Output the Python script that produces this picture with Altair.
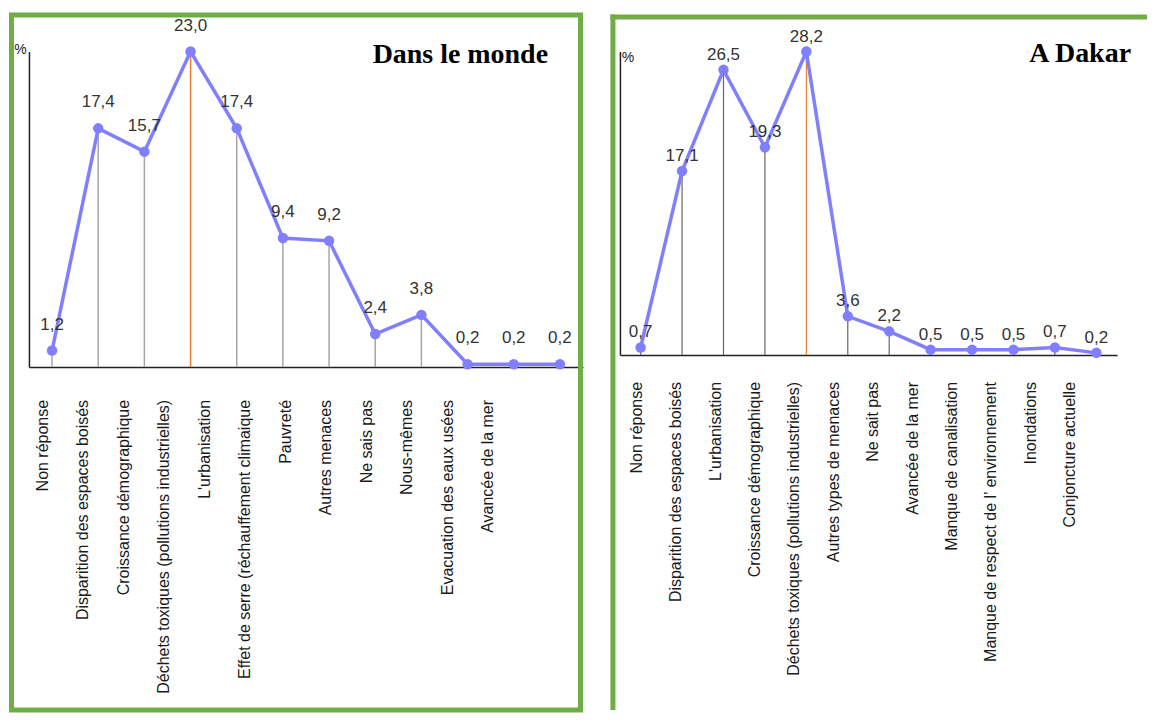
import altair as alt
import pandas as pd

# ---- data ----
world_cats = [
    "Non réponse",
    "Disparition des espaces boisés",
    "Croissance démographique",
    "Déchets toxiques (pollutions industrielles)",
    "L'urbanisation",
    "Effet de serre (réchauffement climaique",
    "Pauvreté",
    "Autres menaces",
    "Ne sais pas",
    "Nous-mêmes",
    "Evacuation des eaux usées",
    "Avancée de la mer",
]
world_vals = [1.2, 17.4, 15.7, 23.0, 17.4, 9.4, 9.2, 2.4, 3.8, 0.2, 0.2, 0.2]

dakar_cats = [
    "Non réponse",
    "Disparition des espaces boisés",
    "L'urbanisation",
    "Croissance démographique",
    "Déchets toxiques (pollutions industrielles)",
    "Autres types de menaces",
    "Ne sait pas",
    "Avancée de la mer",
    "Manque de canalisation",
    "Manque de respect de l\u2019 environnement",
    "Inondations",
    "Conjoncture actuelle",
]
dakar_vals = [0.7, 17.1, 26.5, 19.3, 28.2, 3.6, 2.2, 0.5, 0.5, 0.5, 0.7, 0.2]

titles = ["Dans le monde", "A Dakar"]
highlight = "Déchets toxiques (pollutions industrielles)"

LINE = "#8080FF"
GREEN = "#70AD47"
ORANGE = "#ED7D31"
FONT = "Liberation Sans"


def fmt(v):
    return f"{v:.1f}".replace(".", ",")


def one(**kw):
    return pd.DataFrame({k: [v] for k, v in kw.items()})


def panel(cats, vals, title, W, H, ymax, val_dy, lab_range, lab_top,
          title_x, title_y, pct_x, pct_y, rule_color, rule_w, borders):
    df = pd.DataFrame({"cat": cats, "val": vals, "lab": [fmt(v) for v in vals]})
    x = alt.X("cat:N", sort=cats,
              scale=alt.Scale(type="point", padding=0.5),
              axis=alt.Axis(title=None, labels=False, ticks=False, grid=False,
                            domain=True, domainColor="#222222", domainWidth=1.5))
    y = alt.Y("val:Q",
              scale=alt.Scale(domain=[0, ymax], nice=False, zero=True),
              axis=alt.Axis(title=None, labels=False, ticks=False, grid=False,
                            domain=True, domainColor="#222222", domainWidth=1.5))
    base = alt.Chart(df)
    rules = base.mark_rule(strokeWidth=rule_w).encode(
        x=x, y=y, y2=alt.datum(0),
        color=alt.when(alt.datum.cat == highlight)
        .then(alt.value(ORANGE))
        .otherwise(alt.value(rule_color)),
    )
    line = base.mark_line(color=LINE, strokeWidth=3.5).encode(x=x, y=y)
    pts = base.mark_circle(color=LINE, size=110, opacity=1).encode(x=x, y=y)
    vlabels = base.mark_text(dy=val_dy, fontSize=17, font=FONT, color="#333333").encode(
        x=x, y=y, text="lab:N")
    main = alt.layer(rules, line, pts, vlabels)

    xlabels = alt.Chart(df).mark_text(
        angle=270, align="right", baseline="middle", fontSize=16, font=FONT,
        color="#1a1a1a").encode(
        x=alt.X("cat:N", sort=cats,
                scale=alt.Scale(type="point", range=lab_range, padding=0),
                axis=None),
        y=alt.value(lab_top),
        text="cat:N",
    )
    ttl = alt.Chart(one(t=title)).mark_text(
        align="right", baseline="middle", font="Liberation Serif",
        fontWeight="bold", fontSize=28, color="#000000").encode(
        x=alt.value(title_x), y=alt.value(title_y), text="t:N")
    pct = alt.Chart(one(t="%")).mark_text(
        align="center", baseline="middle", font=FONT, fontSize=14,
        color="#222222").encode(
        x=alt.value(pct_x), y=alt.value(pct_y), text="t:N")

    return alt.layer(main, xlabels, ttl, pct, *borders).resolve_scale(
        x="independent").properties(width=W, height=H)


left_borders = [
    alt.Chart(one(a=0)).mark_rect(fill="transparent", stroke=GREEN, strokeWidth=5).encode(
        x=alt.value(-17.5), x2=alt.value(552.5), y=alt.value(-36.5), y2=alt.value(659.5))
]
right_borders = [
    alt.Chart(one(a=0)).mark_rule(stroke=GREEN, strokeWidth=5).encode(
        x=alt.value(-9.5), x2=alt.value(528), y=alt.value(-34.5)),
    alt.Chart(one(a=0)).mark_rule(stroke=GREEN, strokeWidth=5).encode(
        x=alt.value(-7), y=alt.value(-37), y2=alt.value(659.5)),
]

left = panel(world_cats, world_vals, titles[0], 555, 316, 23.0, -26,
             [14, 460], 349, 520, 3, -8.5, -2, "#A6A6A6", 1.5, left_borders)
right = panel(dakar_cats, dakar_vals, titles[1], 498, 304, 28.2, -15,
              [17, 451], 331, 512, 2, 8, 6, "#666666", 1.2, right_borders)

chart = alt.hconcat(left, right, spacing=37).properties(
    bounds="flush",
    padding={"left": 0, "top": 3, "right": 0, "bottom": 0},
).configure_view(stroke="transparent")

chart.save("out.html", embed_options={"renderer": "svg", "actions": False})
